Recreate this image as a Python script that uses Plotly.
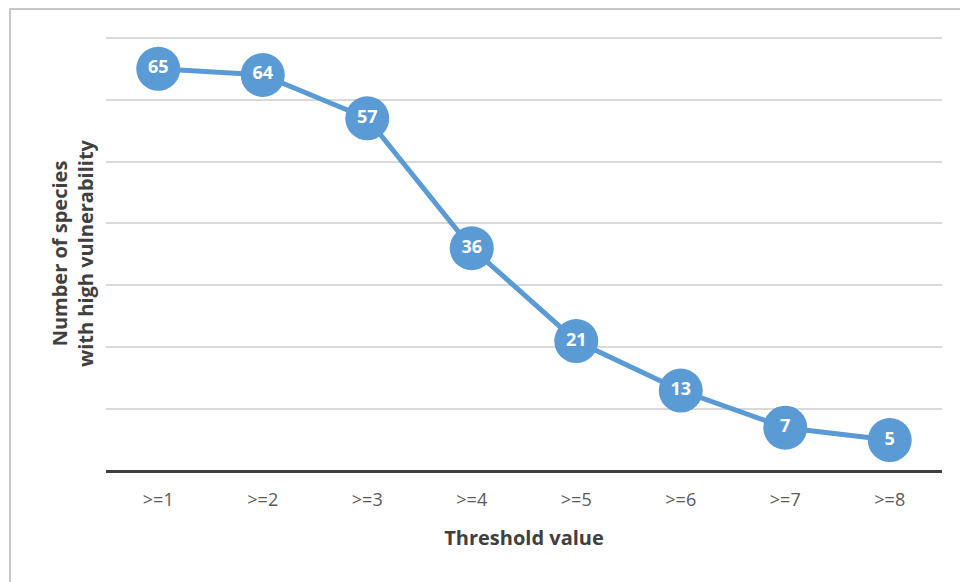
import plotly.graph_objects as go

# Threshold categories and number of highly vulnerable species
thresholds = [">=1", ">=2", ">=3", ">=4", ">=5", ">=6", ">=7", ">=8"]
species_counts = [65, 64, 57, 36, 21, 13, 7, 5]

W, H = 960, 582
ML, MR, MT, MB = 106, 18, 36, 111
plot_w = W - ML - MR
plot_h = H - MT - MB
Y_MAX = 70.3

BLUE = "#5B9BD5"
FONT = "Open Sans, Liberation Sans, sans-serif"

fig = go.Figure()
fig.add_trace(go.Scatter(
    x=thresholds,
    y=species_counts,
    mode="lines+markers+text",
    line=dict(color=BLUE, width=5),
    marker=dict(size=44, color=BLUE, line=dict(width=0)),
    text=[str(v) for v in species_counts],
    textposition="middle center",
    textfont=dict(family=FONT, size=18, color="white", weight="bold"),
    cliponaxis=False,
    showlegend=False,
    hoverinfo="x+y",
))

# outer frame around the chart area
def px_to_paper_x(px):
    return (px - ML) / plot_w

def px_to_paper_y(py):
    return (H - MB - py) / plot_h

fig.add_shape(
    type="rect", xref="paper", yref="paper",
    x0=px_to_paper_x(10), x1=px_to_paper_x(990),
    y0=px_to_paper_y(620), y1=px_to_paper_y(9),
    line=dict(color="#C8C8C8", width=2), fillcolor="rgba(0,0,0,0)",
    layer="below",
)

fig.update_layout(
    width=W, height=H,
    margin=dict(l=ML, r=MR, t=MT, b=MB),
    paper_bgcolor="white",
    plot_bgcolor="white",
    font=dict(family=FONT, color="#595959"),
    xaxis=dict(
        type="category",
        range=[-0.5, 7.5],
        showgrid=False,
        showline=False,
        zeroline=False,
        ticks="",
        tickfont=dict(size=18, color="#595959"),
        ticklabelstandoff=16,
        title=dict(text="Threshold value", font=dict(size=20, color="#404040", weight="bold"), standoff=20),
        fixedrange=True,
    ),
    yaxis=dict(
        range=[0, Y_MAX],
        tickvals=[10, 20, 30, 40, 50, 60, 70],
        showgrid=True,
        gridcolor="#D9D9D9",
        gridwidth=2,
        showticklabels=False,
        zeroline=True,
        zerolinecolor="#404040",
        zerolinewidth=3,
        showline=False,
        ticks="",
        title=dict(text="Number of species<br>with high vulnerability",
                   font=dict(size=20, color="#404040", weight="bold"), standoff=6),
        fixedrange=True,
    ),
)

fig.write_html("out.html")
